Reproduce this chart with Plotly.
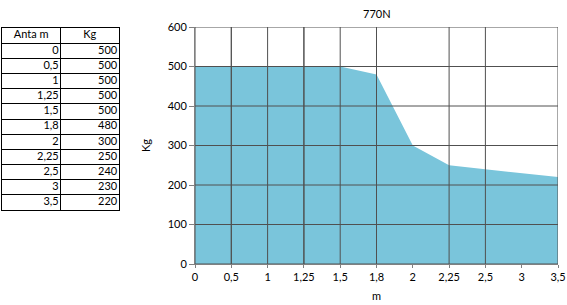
import plotly.graph_objects as go

categories = ["0", "0,5", "1", "1,25", "1,5", "1,8", "2", "2,25", "2,5", "3", "3,5"]
kg = [500, 500, 500, 500, 500, 480, 300, 250, 240, 230, 220]
y_ticks = [0, 100, 200, 300, 400, 500, 600]
table_header = ["Anta m", "Kg"]
title = "770N"

W, H = 567, 305
FONT = "Lato"
FS = 11
GRID = "#505050"

fig = go.Figure()

# ---- table, built on its own pair of axes (one unit per column / row) ----
n_rows = len(categories) + 1
row_pos = [i + 0.5 for i in range(n_rows)]
fig.add_trace(go.Scatter(
    x=[0.5, 1.5], y=[row_pos[0]] * 2, text=table_header, mode="text",
    textposition="middle center", textfont=dict(family=FONT, size=FS, color="black"),
    xaxis="x2", yaxis="y2", hoverinfo="skip", showlegend=False, cliponaxis=False,
))
fig.add_trace(go.Scatter(
    x=[0.97] * len(categories), y=row_pos[1:], text=categories, mode="text",
    textposition="middle left", textfont=dict(family=FONT, size=FS, color="black"),
    xaxis="x2", yaxis="y2", hoverinfo="skip", showlegend=False, cliponaxis=False,
))
fig.add_trace(go.Scatter(
    x=[1.97] * len(kg), y=row_pos[1:], text=[str(v) for v in kg], mode="text",
    textposition="middle left", textfont=dict(family=FONT, size=FS, color="black"),
    xaxis="x2", yaxis="y2", hoverinfo="skip", showlegend=False, cliponaxis=False,
))

# ---- area chart ----
fig.add_trace(go.Scatter(
    x=categories, y=kg, mode="lines", fill="tozeroy",
    fillcolor="#7AC5DB", line=dict(width=0, color="#7AC5DB"),
    hoverinfo="skip", showlegend=False,
))

# gridlines drawn above the filled area
for c in categories:
    fig.add_shape(type="line", xref="x", yref="y", x0=c, x1=c, y0=0, y1=600,
                  line=dict(color=GRID, width=1), layer="above")
for v in y_ticks:
    fig.add_shape(type="line", xref="x", yref="y", x0=categories[0], x1=categories[-1],
                  y0=v, y1=v, line=dict(color=GRID, width=1), layer="above")

fig.update_layout(
    width=W, height=H,
    margin=dict(l=0, r=0, t=0, b=0, autoexpand=False),
    paper_bgcolor="white", plot_bgcolor="white",
    font=dict(family=FONT, size=FS, color="black"),
    showlegend=False,
    xaxis=dict(domain=[195 / W, 558 / W], type="category", range=[0, len(categories) - 1],
               automargin=False,
               showgrid=False, zeroline=False, showline=True, linecolor="#808080",
               ticks="outside", ticklen=3, tickcolor="#808080", tickfont=dict(size=FS),
               title=dict(text="m", standoff=10, font=dict(size=FS))),
    yaxis=dict(domain=[1 - 264 / H, 1 - 27 / H], range=[0, 600], tickvals=y_ticks,
               automargin=False,
               showgrid=False, zeroline=False, showline=True, linecolor="#808080",
               ticks="outside", ticklen=5, tickcolor="#808080", tickfont=dict(size=FS),
               title=dict(text="Kg", standoff=14, font=dict(size=FS))),
    xaxis2=dict(domain=[2 / W, 119 / W], anchor="y2", range=[0, 2], tickvals=[0, 1, 2],
                showgrid=True, gridcolor="black", gridwidth=1, zeroline=False,
                showline=True, linecolor="black", mirror=True, showticklabels=False,
                ticks="", automargin=False, fixedrange=True),
    yaxis2=dict(domain=[1 - 210 / H, 1 - 28 / H], anchor="x2", range=[n_rows, 0],
                tickvals=list(range(n_rows + 1)),
                showgrid=True, gridcolor="black", gridwidth=1, zeroline=False,
                showline=True, linecolor="black", mirror=True, showticklabels=False,
                ticks="", automargin=False, fixedrange=True),
    annotations=[dict(text=title, x=377 / W, y=1 - 14 / H, xref="paper", yref="paper",
                      showarrow=False, font=dict(size=FS), xanchor="center", yanchor="middle")],
)

fig.write_html("out.html")
